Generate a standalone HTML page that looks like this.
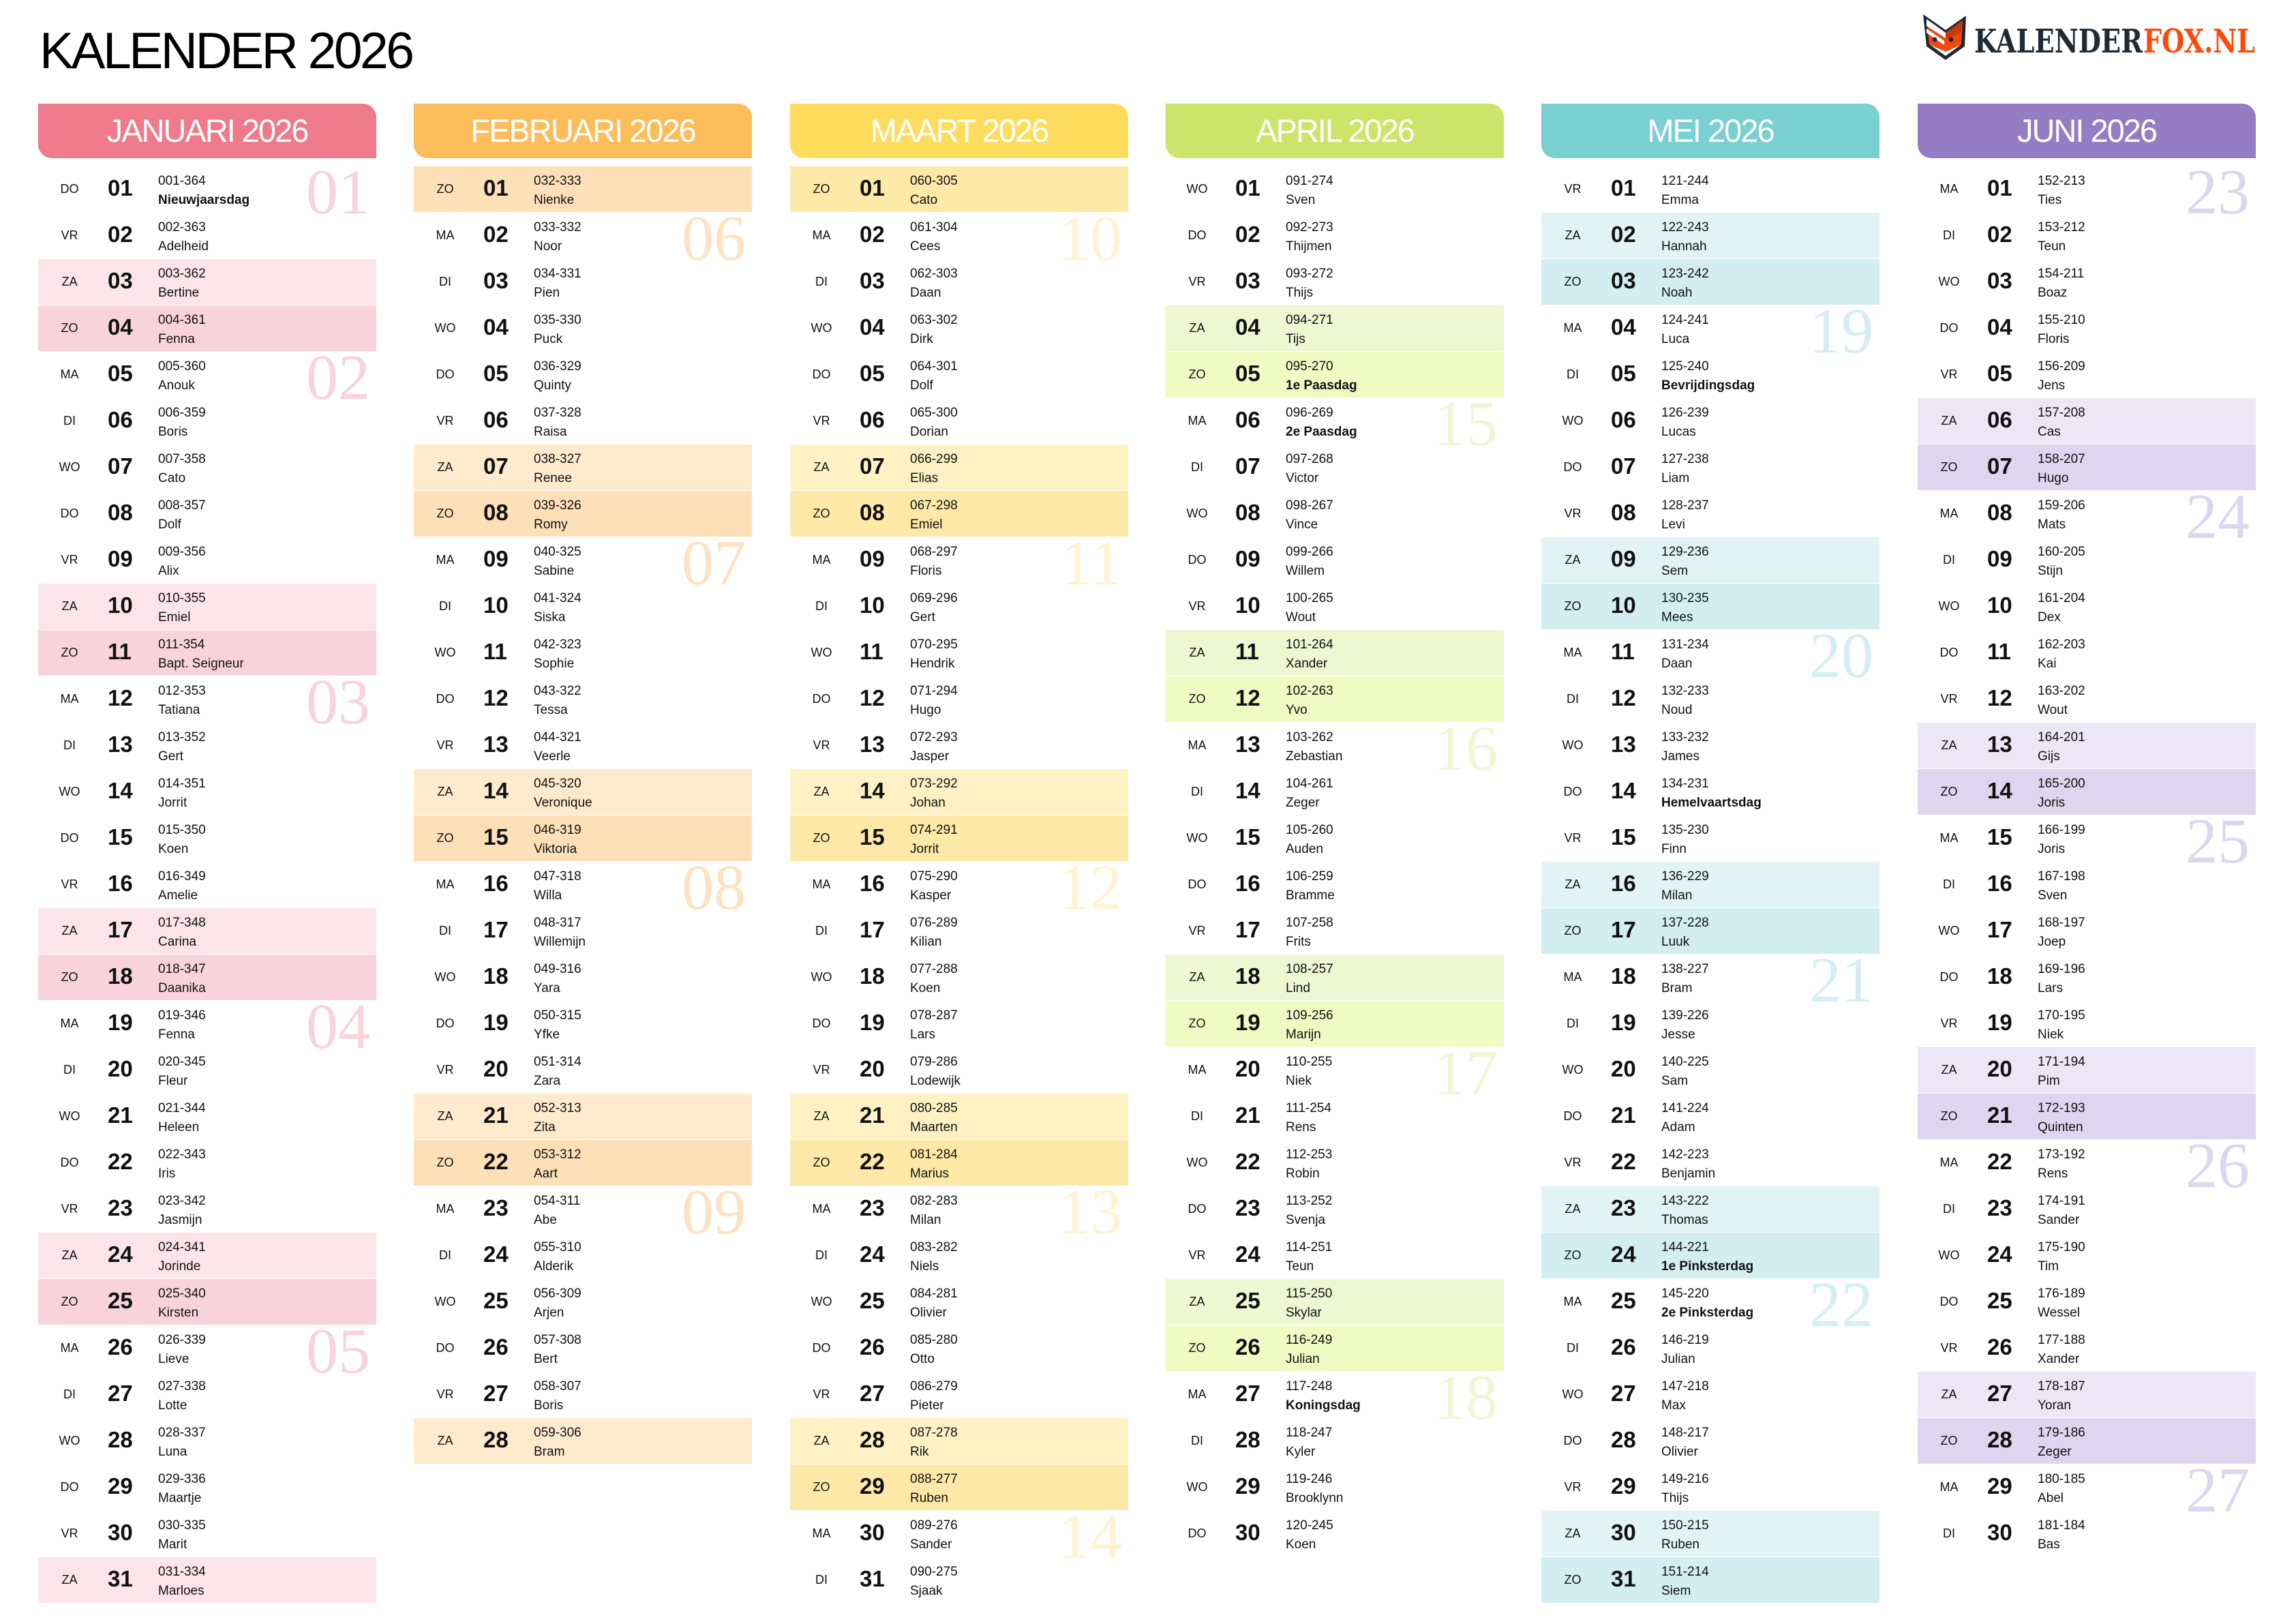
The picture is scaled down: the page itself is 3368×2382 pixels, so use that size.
<!DOCTYPE html>
<html><head><meta charset="utf-8">
<style>
*{margin:0;padding:0;box-sizing:border-box}
body{width:3368px;height:2382px;background:#fff;position:relative;overflow:hidden;font-family:"Liberation Sans Narrow","Liberation Sans",sans-serif;color:#111}
.title{position:absolute;left:58px;top:37px;font-size:75px;line-height:75px;letter-spacing:-3.5px;font-family:"Liberation Sans",sans-serif;color:#000}
.col{position:absolute;top:152px;width:496px}
.h{height:80px;border-radius:0 20px 0 20px;color:#fff;font-size:47px;line-height:80px;text-align:center;font-family:"Liberation Sans",sans-serif;letter-spacing:-2px;margin-bottom:12px}
.r{position:relative;height:66.5px;margin-bottom:1.5px}
.d{position:absolute;left:0;width:92px;text-align:center;top:24px;font-size:18px;line-height:18px;font-weight:normal}
.n{position:absolute;left:102px;top:15px;font-size:33px;line-height:33px;font-weight:bold}
.t{position:absolute;left:176px;top:12px;font-size:19px;line-height:19px}
.m{position:absolute;left:176px;top:40px;font-size:19px;line-height:19px;white-space:nowrap}
.m.b{font-weight:bold}
.w{position:absolute;right:9px;top:-9px;font-family:"Liberation Serif",serif;font-size:94px;line-height:94px}
.c1 .h{background:#ee7a8c}.c1 .za{background:#fbe4ea}.c1 .zo{background:#f9d3dc}.c1 .w{color:#f9d3dc}
.c2 .h{background:#fdbd5b}.c2 .za{background:#feeacd}.c2 .zo{background:#fee0b8}.c2 .w{color:#fee3c2}
.c3 .h{background:#fedd5e}.c3 .za{background:#fef2c4}.c3 .zo{background:#fee9a8}.c3 .w{color:#fff3d4}
.c4 .h{background:#cde46a}.c4 .za{background:#eef6d2}.c4 .zo{background:#f0fac3}.c4 .w{color:#eff7d6}
.c5 .h{background:#79cfd2}.c5 .za{background:#e2f3f3}.c5 .zo{background:#d3eef1}.c5 .w{color:#d4eff2}
.c6 .h{background:#967dc3}.c6 .za{background:#ece7f6}.c6 .zo{background:#ddd6ee}.c6 .w{color:#ddd6ee}
.logo{position:absolute;left:2818px;top:18px}
</style></head><body>
<div class="title">KALENDER 2026</div>
<svg class="logo" width="500" height="76" viewBox="0 0 500 76">
<polygon points="3,3 36,26 66,5 64,50 36,70 8,50" fill="#1f2a33"/>
<polygon points="8,10 36,30 61,12 59,47 36,64 12,47" fill="#f04a14"/>
<polygon points="8,10 36,30 36,38 8,20" fill="#fff"/>
<polygon points="8,24 34,42 34,48 8,30" fill="#fff"/>
<polygon points="36,30 61,12 59,30 36,40" fill="#c83a0c"/>
<polygon points="14,48 36,58 58,48 36,64" fill="#fff"/>
<circle cx="20" cy="40" r="3.5" fill="#1f2a33"/><circle cx="44" cy="40" r="3.5" fill="#1f2a33"/>
<text x="78" y="59" font-family="DejaVu Serif,Liberation Serif,serif" font-weight="bold" font-size="48" fill="#1f2a33" textLength="247" lengthAdjust="spacingAndGlyphs">KALENDER</text>
<text x="326" y="59" font-family="DejaVu Serif,Liberation Serif,serif" font-weight="bold" font-size="48" fill="#ff4a0a" textLength="164" lengthAdjust="spacingAndGlyphs">FOX.NL</text>
</svg>

<div class="col c1" style="left:56px">
<div class="h">JANUARI 2026</div>
<div class="r"><span class="d">DO</span><span class="n">01</span><span class="t">001-364</span><span class="m b">Nieuwjaarsdag</span><span class="w">01</span></div>
<div class="r"><span class="d">VR</span><span class="n">02</span><span class="t">002-363</span><span class="m">Adelheid</span></div>
<div class="r za"><span class="d">ZA</span><span class="n">03</span><span class="t">003-362</span><span class="m">Bertine</span></div>
<div class="r zo"><span class="d">ZO</span><span class="n">04</span><span class="t">004-361</span><span class="m">Fenna</span></div>
<div class="r"><span class="d">MA</span><span class="n">05</span><span class="t">005-360</span><span class="m">Anouk</span><span class="w">02</span></div>
<div class="r"><span class="d">DI</span><span class="n">06</span><span class="t">006-359</span><span class="m">Boris</span></div>
<div class="r"><span class="d">WO</span><span class="n">07</span><span class="t">007-358</span><span class="m">Cato</span></div>
<div class="r"><span class="d">DO</span><span class="n">08</span><span class="t">008-357</span><span class="m">Dolf</span></div>
<div class="r"><span class="d">VR</span><span class="n">09</span><span class="t">009-356</span><span class="m">Alix</span></div>
<div class="r za"><span class="d">ZA</span><span class="n">10</span><span class="t">010-355</span><span class="m">Emiel</span></div>
<div class="r zo"><span class="d">ZO</span><span class="n">11</span><span class="t">011-354</span><span class="m">Bapt. Seigneur</span></div>
<div class="r"><span class="d">MA</span><span class="n">12</span><span class="t">012-353</span><span class="m">Tatiana</span><span class="w">03</span></div>
<div class="r"><span class="d">DI</span><span class="n">13</span><span class="t">013-352</span><span class="m">Gert</span></div>
<div class="r"><span class="d">WO</span><span class="n">14</span><span class="t">014-351</span><span class="m">Jorrit</span></div>
<div class="r"><span class="d">DO</span><span class="n">15</span><span class="t">015-350</span><span class="m">Koen</span></div>
<div class="r"><span class="d">VR</span><span class="n">16</span><span class="t">016-349</span><span class="m">Amelie</span></div>
<div class="r za"><span class="d">ZA</span><span class="n">17</span><span class="t">017-348</span><span class="m">Carina</span></div>
<div class="r zo"><span class="d">ZO</span><span class="n">18</span><span class="t">018-347</span><span class="m">Daanika</span></div>
<div class="r"><span class="d">MA</span><span class="n">19</span><span class="t">019-346</span><span class="m">Fenna</span><span class="w">04</span></div>
<div class="r"><span class="d">DI</span><span class="n">20</span><span class="t">020-345</span><span class="m">Fleur</span></div>
<div class="r"><span class="d">WO</span><span class="n">21</span><span class="t">021-344</span><span class="m">Heleen</span></div>
<div class="r"><span class="d">DO</span><span class="n">22</span><span class="t">022-343</span><span class="m">Iris</span></div>
<div class="r"><span class="d">VR</span><span class="n">23</span><span class="t">023-342</span><span class="m">Jasmijn</span></div>
<div class="r za"><span class="d">ZA</span><span class="n">24</span><span class="t">024-341</span><span class="m">Jorinde</span></div>
<div class="r zo"><span class="d">ZO</span><span class="n">25</span><span class="t">025-340</span><span class="m">Kirsten</span></div>
<div class="r"><span class="d">MA</span><span class="n">26</span><span class="t">026-339</span><span class="m">Lieve</span><span class="w">05</span></div>
<div class="r"><span class="d">DI</span><span class="n">27</span><span class="t">027-338</span><span class="m">Lotte</span></div>
<div class="r"><span class="d">WO</span><span class="n">28</span><span class="t">028-337</span><span class="m">Luna</span></div>
<div class="r"><span class="d">DO</span><span class="n">29</span><span class="t">029-336</span><span class="m">Maartje</span></div>
<div class="r"><span class="d">VR</span><span class="n">30</span><span class="t">030-335</span><span class="m">Marit</span></div>
<div class="r za"><span class="d">ZA</span><span class="n">31</span><span class="t">031-334</span><span class="m">Marloes</span></div>
</div>

<div class="col c2" style="left:607px">
<div class="h">FEBRUARI 2026</div>
<div class="r zo"><span class="d">ZO</span><span class="n">01</span><span class="t">032-333</span><span class="m">Nienke</span></div>
<div class="r"><span class="d">MA</span><span class="n">02</span><span class="t">033-332</span><span class="m">Noor</span><span class="w">06</span></div>
<div class="r"><span class="d">DI</span><span class="n">03</span><span class="t">034-331</span><span class="m">Pien</span></div>
<div class="r"><span class="d">WO</span><span class="n">04</span><span class="t">035-330</span><span class="m">Puck</span></div>
<div class="r"><span class="d">DO</span><span class="n">05</span><span class="t">036-329</span><span class="m">Quinty</span></div>
<div class="r"><span class="d">VR</span><span class="n">06</span><span class="t">037-328</span><span class="m">Raisa</span></div>
<div class="r za"><span class="d">ZA</span><span class="n">07</span><span class="t">038-327</span><span class="m">Renee</span></div>
<div class="r zo"><span class="d">ZO</span><span class="n">08</span><span class="t">039-326</span><span class="m">Romy</span></div>
<div class="r"><span class="d">MA</span><span class="n">09</span><span class="t">040-325</span><span class="m">Sabine</span><span class="w">07</span></div>
<div class="r"><span class="d">DI</span><span class="n">10</span><span class="t">041-324</span><span class="m">Siska</span></div>
<div class="r"><span class="d">WO</span><span class="n">11</span><span class="t">042-323</span><span class="m">Sophie</span></div>
<div class="r"><span class="d">DO</span><span class="n">12</span><span class="t">043-322</span><span class="m">Tessa</span></div>
<div class="r"><span class="d">VR</span><span class="n">13</span><span class="t">044-321</span><span class="m">Veerle</span></div>
<div class="r za"><span class="d">ZA</span><span class="n">14</span><span class="t">045-320</span><span class="m">Veronique</span></div>
<div class="r zo"><span class="d">ZO</span><span class="n">15</span><span class="t">046-319</span><span class="m">Viktoria</span></div>
<div class="r"><span class="d">MA</span><span class="n">16</span><span class="t">047-318</span><span class="m">Willa</span><span class="w">08</span></div>
<div class="r"><span class="d">DI</span><span class="n">17</span><span class="t">048-317</span><span class="m">Willemijn</span></div>
<div class="r"><span class="d">WO</span><span class="n">18</span><span class="t">049-316</span><span class="m">Yara</span></div>
<div class="r"><span class="d">DO</span><span class="n">19</span><span class="t">050-315</span><span class="m">Yfke</span></div>
<div class="r"><span class="d">VR</span><span class="n">20</span><span class="t">051-314</span><span class="m">Zara</span></div>
<div class="r za"><span class="d">ZA</span><span class="n">21</span><span class="t">052-313</span><span class="m">Zita</span></div>
<div class="r zo"><span class="d">ZO</span><span class="n">22</span><span class="t">053-312</span><span class="m">Aart</span></div>
<div class="r"><span class="d">MA</span><span class="n">23</span><span class="t">054-311</span><span class="m">Abe</span><span class="w">09</span></div>
<div class="r"><span class="d">DI</span><span class="n">24</span><span class="t">055-310</span><span class="m">Alderik</span></div>
<div class="r"><span class="d">WO</span><span class="n">25</span><span class="t">056-309</span><span class="m">Arjen</span></div>
<div class="r"><span class="d">DO</span><span class="n">26</span><span class="t">057-308</span><span class="m">Bert</span></div>
<div class="r"><span class="d">VR</span><span class="n">27</span><span class="t">058-307</span><span class="m">Boris</span></div>
<div class="r za"><span class="d">ZA</span><span class="n">28</span><span class="t">059-306</span><span class="m">Bram</span></div>
</div>

<div class="col c3" style="left:1159px">
<div class="h">MAART 2026</div>
<div class="r zo"><span class="d">ZO</span><span class="n">01</span><span class="t">060-305</span><span class="m">Cato</span></div>
<div class="r"><span class="d">MA</span><span class="n">02</span><span class="t">061-304</span><span class="m">Cees</span><span class="w">10</span></div>
<div class="r"><span class="d">DI</span><span class="n">03</span><span class="t">062-303</span><span class="m">Daan</span></div>
<div class="r"><span class="d">WO</span><span class="n">04</span><span class="t">063-302</span><span class="m">Dirk</span></div>
<div class="r"><span class="d">DO</span><span class="n">05</span><span class="t">064-301</span><span class="m">Dolf</span></div>
<div class="r"><span class="d">VR</span><span class="n">06</span><span class="t">065-300</span><span class="m">Dorian</span></div>
<div class="r za"><span class="d">ZA</span><span class="n">07</span><span class="t">066-299</span><span class="m">Elias</span></div>
<div class="r zo"><span class="d">ZO</span><span class="n">08</span><span class="t">067-298</span><span class="m">Emiel</span></div>
<div class="r"><span class="d">MA</span><span class="n">09</span><span class="t">068-297</span><span class="m">Floris</span><span class="w">11</span></div>
<div class="r"><span class="d">DI</span><span class="n">10</span><span class="t">069-296</span><span class="m">Gert</span></div>
<div class="r"><span class="d">WO</span><span class="n">11</span><span class="t">070-295</span><span class="m">Hendrik</span></div>
<div class="r"><span class="d">DO</span><span class="n">12</span><span class="t">071-294</span><span class="m">Hugo</span></div>
<div class="r"><span class="d">VR</span><span class="n">13</span><span class="t">072-293</span><span class="m">Jasper</span></div>
<div class="r za"><span class="d">ZA</span><span class="n">14</span><span class="t">073-292</span><span class="m">Johan</span></div>
<div class="r zo"><span class="d">ZO</span><span class="n">15</span><span class="t">074-291</span><span class="m">Jorrit</span></div>
<div class="r"><span class="d">MA</span><span class="n">16</span><span class="t">075-290</span><span class="m">Kasper</span><span class="w">12</span></div>
<div class="r"><span class="d">DI</span><span class="n">17</span><span class="t">076-289</span><span class="m">Kilian</span></div>
<div class="r"><span class="d">WO</span><span class="n">18</span><span class="t">077-288</span><span class="m">Koen</span></div>
<div class="r"><span class="d">DO</span><span class="n">19</span><span class="t">078-287</span><span class="m">Lars</span></div>
<div class="r"><span class="d">VR</span><span class="n">20</span><span class="t">079-286</span><span class="m">Lodewijk</span></div>
<div class="r za"><span class="d">ZA</span><span class="n">21</span><span class="t">080-285</span><span class="m">Maarten</span></div>
<div class="r zo"><span class="d">ZO</span><span class="n">22</span><span class="t">081-284</span><span class="m">Marius</span></div>
<div class="r"><span class="d">MA</span><span class="n">23</span><span class="t">082-283</span><span class="m">Milan</span><span class="w">13</span></div>
<div class="r"><span class="d">DI</span><span class="n">24</span><span class="t">083-282</span><span class="m">Niels</span></div>
<div class="r"><span class="d">WO</span><span class="n">25</span><span class="t">084-281</span><span class="m">Olivier</span></div>
<div class="r"><span class="d">DO</span><span class="n">26</span><span class="t">085-280</span><span class="m">Otto</span></div>
<div class="r"><span class="d">VR</span><span class="n">27</span><span class="t">086-279</span><span class="m">Pieter</span></div>
<div class="r za"><span class="d">ZA</span><span class="n">28</span><span class="t">087-278</span><span class="m">Rik</span></div>
<div class="r zo"><span class="d">ZO</span><span class="n">29</span><span class="t">088-277</span><span class="m">Ruben</span></div>
<div class="r"><span class="d">MA</span><span class="n">30</span><span class="t">089-276</span><span class="m">Sander</span><span class="w">14</span></div>
<div class="r"><span class="d">DI</span><span class="n">31</span><span class="t">090-275</span><span class="m">Sjaak</span></div>
</div>

<div class="col c4" style="left:1710px">
<div class="h">APRIL 2026</div>
<div class="r"><span class="d">WO</span><span class="n">01</span><span class="t">091-274</span><span class="m">Sven</span></div>
<div class="r"><span class="d">DO</span><span class="n">02</span><span class="t">092-273</span><span class="m">Thijmen</span></div>
<div class="r"><span class="d">VR</span><span class="n">03</span><span class="t">093-272</span><span class="m">Thijs</span></div>
<div class="r za"><span class="d">ZA</span><span class="n">04</span><span class="t">094-271</span><span class="m">Tijs</span></div>
<div class="r zo"><span class="d">ZO</span><span class="n">05</span><span class="t">095-270</span><span class="m b">1e Paasdag</span></div>
<div class="r"><span class="d">MA</span><span class="n">06</span><span class="t">096-269</span><span class="m b">2e Paasdag</span><span class="w">15</span></div>
<div class="r"><span class="d">DI</span><span class="n">07</span><span class="t">097-268</span><span class="m">Victor</span></div>
<div class="r"><span class="d">WO</span><span class="n">08</span><span class="t">098-267</span><span class="m">Vince</span></div>
<div class="r"><span class="d">DO</span><span class="n">09</span><span class="t">099-266</span><span class="m">Willem</span></div>
<div class="r"><span class="d">VR</span><span class="n">10</span><span class="t">100-265</span><span class="m">Wout</span></div>
<div class="r za"><span class="d">ZA</span><span class="n">11</span><span class="t">101-264</span><span class="m">Xander</span></div>
<div class="r zo"><span class="d">ZO</span><span class="n">12</span><span class="t">102-263</span><span class="m">Yvo</span></div>
<div class="r"><span class="d">MA</span><span class="n">13</span><span class="t">103-262</span><span class="m">Zebastian</span><span class="w">16</span></div>
<div class="r"><span class="d">DI</span><span class="n">14</span><span class="t">104-261</span><span class="m">Zeger</span></div>
<div class="r"><span class="d">WO</span><span class="n">15</span><span class="t">105-260</span><span class="m">Auden</span></div>
<div class="r"><span class="d">DO</span><span class="n">16</span><span class="t">106-259</span><span class="m">Bramme</span></div>
<div class="r"><span class="d">VR</span><span class="n">17</span><span class="t">107-258</span><span class="m">Frits</span></div>
<div class="r za"><span class="d">ZA</span><span class="n">18</span><span class="t">108-257</span><span class="m">Lind</span></div>
<div class="r zo"><span class="d">ZO</span><span class="n">19</span><span class="t">109-256</span><span class="m">Marijn</span></div>
<div class="r"><span class="d">MA</span><span class="n">20</span><span class="t">110-255</span><span class="m">Niek</span><span class="w">17</span></div>
<div class="r"><span class="d">DI</span><span class="n">21</span><span class="t">111-254</span><span class="m">Rens</span></div>
<div class="r"><span class="d">WO</span><span class="n">22</span><span class="t">112-253</span><span class="m">Robin</span></div>
<div class="r"><span class="d">DO</span><span class="n">23</span><span class="t">113-252</span><span class="m">Svenja</span></div>
<div class="r"><span class="d">VR</span><span class="n">24</span><span class="t">114-251</span><span class="m">Teun</span></div>
<div class="r za"><span class="d">ZA</span><span class="n">25</span><span class="t">115-250</span><span class="m">Skylar</span></div>
<div class="r zo"><span class="d">ZO</span><span class="n">26</span><span class="t">116-249</span><span class="m">Julian</span></div>
<div class="r"><span class="d">MA</span><span class="n">27</span><span class="t">117-248</span><span class="m b">Koningsdag</span><span class="w">18</span></div>
<div class="r"><span class="d">DI</span><span class="n">28</span><span class="t">118-247</span><span class="m">Kyler</span></div>
<div class="r"><span class="d">WO</span><span class="n">29</span><span class="t">119-246</span><span class="m">Brooklynn</span></div>
<div class="r"><span class="d">DO</span><span class="n">30</span><span class="t">120-245</span><span class="m">Koen</span></div>
</div>

<div class="col c5" style="left:2261px">
<div class="h">MEI 2026</div>
<div class="r"><span class="d">VR</span><span class="n">01</span><span class="t">121-244</span><span class="m">Emma</span></div>
<div class="r za"><span class="d">ZA</span><span class="n">02</span><span class="t">122-243</span><span class="m">Hannah</span></div>
<div class="r zo"><span class="d">ZO</span><span class="n">03</span><span class="t">123-242</span><span class="m">Noah</span></div>
<div class="r"><span class="d">MA</span><span class="n">04</span><span class="t">124-241</span><span class="m">Luca</span><span class="w">19</span></div>
<div class="r"><span class="d">DI</span><span class="n">05</span><span class="t">125-240</span><span class="m b">Bevrijdingsdag</span></div>
<div class="r"><span class="d">WO</span><span class="n">06</span><span class="t">126-239</span><span class="m">Lucas</span></div>
<div class="r"><span class="d">DO</span><span class="n">07</span><span class="t">127-238</span><span class="m">Liam</span></div>
<div class="r"><span class="d">VR</span><span class="n">08</span><span class="t">128-237</span><span class="m">Levi</span></div>
<div class="r za"><span class="d">ZA</span><span class="n">09</span><span class="t">129-236</span><span class="m">Sem</span></div>
<div class="r zo"><span class="d">ZO</span><span class="n">10</span><span class="t">130-235</span><span class="m">Mees</span></div>
<div class="r"><span class="d">MA</span><span class="n">11</span><span class="t">131-234</span><span class="m">Daan</span><span class="w">20</span></div>
<div class="r"><span class="d">DI</span><span class="n">12</span><span class="t">132-233</span><span class="m">Noud</span></div>
<div class="r"><span class="d">WO</span><span class="n">13</span><span class="t">133-232</span><span class="m">James</span></div>
<div class="r"><span class="d">DO</span><span class="n">14</span><span class="t">134-231</span><span class="m b">Hemelvaartsdag</span></div>
<div class="r"><span class="d">VR</span><span class="n">15</span><span class="t">135-230</span><span class="m">Finn</span></div>
<div class="r za"><span class="d">ZA</span><span class="n">16</span><span class="t">136-229</span><span class="m">Milan</span></div>
<div class="r zo"><span class="d">ZO</span><span class="n">17</span><span class="t">137-228</span><span class="m">Luuk</span></div>
<div class="r"><span class="d">MA</span><span class="n">18</span><span class="t">138-227</span><span class="m">Bram</span><span class="w">21</span></div>
<div class="r"><span class="d">DI</span><span class="n">19</span><span class="t">139-226</span><span class="m">Jesse</span></div>
<div class="r"><span class="d">WO</span><span class="n">20</span><span class="t">140-225</span><span class="m">Sam</span></div>
<div class="r"><span class="d">DO</span><span class="n">21</span><span class="t">141-224</span><span class="m">Adam</span></div>
<div class="r"><span class="d">VR</span><span class="n">22</span><span class="t">142-223</span><span class="m">Benjamin</span></div>
<div class="r za"><span class="d">ZA</span><span class="n">23</span><span class="t">143-222</span><span class="m">Thomas</span></div>
<div class="r zo"><span class="d">ZO</span><span class="n">24</span><span class="t">144-221</span><span class="m b">1e Pinksterdag</span></div>
<div class="r"><span class="d">MA</span><span class="n">25</span><span class="t">145-220</span><span class="m b">2e Pinksterdag</span><span class="w">22</span></div>
<div class="r"><span class="d">DI</span><span class="n">26</span><span class="t">146-219</span><span class="m">Julian</span></div>
<div class="r"><span class="d">WO</span><span class="n">27</span><span class="t">147-218</span><span class="m">Max</span></div>
<div class="r"><span class="d">DO</span><span class="n">28</span><span class="t">148-217</span><span class="m">Olivier</span></div>
<div class="r"><span class="d">VR</span><span class="n">29</span><span class="t">149-216</span><span class="m">Thijs</span></div>
<div class="r za"><span class="d">ZA</span><span class="n">30</span><span class="t">150-215</span><span class="m">Ruben</span></div>
<div class="r zo"><span class="d">ZO</span><span class="n">31</span><span class="t">151-214</span><span class="m">Siem</span></div>
</div>

<div class="col c6" style="left:2813px">
<div class="h">JUNI 2026</div>
<div class="r"><span class="d">MA</span><span class="n">01</span><span class="t">152-213</span><span class="m">Ties</span><span class="w">23</span></div>
<div class="r"><span class="d">DI</span><span class="n">02</span><span class="t">153-212</span><span class="m">Teun</span></div>
<div class="r"><span class="d">WO</span><span class="n">03</span><span class="t">154-211</span><span class="m">Boaz</span></div>
<div class="r"><span class="d">DO</span><span class="n">04</span><span class="t">155-210</span><span class="m">Floris</span></div>
<div class="r"><span class="d">VR</span><span class="n">05</span><span class="t">156-209</span><span class="m">Jens</span></div>
<div class="r za"><span class="d">ZA</span><span class="n">06</span><span class="t">157-208</span><span class="m">Cas</span></div>
<div class="r zo"><span class="d">ZO</span><span class="n">07</span><span class="t">158-207</span><span class="m">Hugo</span></div>
<div class="r"><span class="d">MA</span><span class="n">08</span><span class="t">159-206</span><span class="m">Mats</span><span class="w">24</span></div>
<div class="r"><span class="d">DI</span><span class="n">09</span><span class="t">160-205</span><span class="m">Stijn</span></div>
<div class="r"><span class="d">WO</span><span class="n">10</span><span class="t">161-204</span><span class="m">Dex</span></div>
<div class="r"><span class="d">DO</span><span class="n">11</span><span class="t">162-203</span><span class="m">Kai</span></div>
<div class="r"><span class="d">VR</span><span class="n">12</span><span class="t">163-202</span><span class="m">Wout</span></div>
<div class="r za"><span class="d">ZA</span><span class="n">13</span><span class="t">164-201</span><span class="m">Gijs</span></div>
<div class="r zo"><span class="d">ZO</span><span class="n">14</span><span class="t">165-200</span><span class="m">Joris</span></div>
<div class="r"><span class="d">MA</span><span class="n">15</span><span class="t">166-199</span><span class="m">Joris</span><span class="w">25</span></div>
<div class="r"><span class="d">DI</span><span class="n">16</span><span class="t">167-198</span><span class="m">Sven</span></div>
<div class="r"><span class="d">WO</span><span class="n">17</span><span class="t">168-197</span><span class="m">Joep</span></div>
<div class="r"><span class="d">DO</span><span class="n">18</span><span class="t">169-196</span><span class="m">Lars</span></div>
<div class="r"><span class="d">VR</span><span class="n">19</span><span class="t">170-195</span><span class="m">Niek</span></div>
<div class="r za"><span class="d">ZA</span><span class="n">20</span><span class="t">171-194</span><span class="m">Pim</span></div>
<div class="r zo"><span class="d">ZO</span><span class="n">21</span><span class="t">172-193</span><span class="m">Quinten</span></div>
<div class="r"><span class="d">MA</span><span class="n">22</span><span class="t">173-192</span><span class="m">Rens</span><span class="w">26</span></div>
<div class="r"><span class="d">DI</span><span class="n">23</span><span class="t">174-191</span><span class="m">Sander</span></div>
<div class="r"><span class="d">WO</span><span class="n">24</span><span class="t">175-190</span><span class="m">Tim</span></div>
<div class="r"><span class="d">DO</span><span class="n">25</span><span class="t">176-189</span><span class="m">Wessel</span></div>
<div class="r"><span class="d">VR</span><span class="n">26</span><span class="t">177-188</span><span class="m">Xander</span></div>
<div class="r za"><span class="d">ZA</span><span class="n">27</span><span class="t">178-187</span><span class="m">Yoran</span></div>
<div class="r zo"><span class="d">ZO</span><span class="n">28</span><span class="t">179-186</span><span class="m">Zeger</span></div>
<div class="r"><span class="d">MA</span><span class="n">29</span><span class="t">180-185</span><span class="m">Abel</span><span class="w">27</span></div>
<div class="r"><span class="d">DI</span><span class="n">30</span><span class="t">181-184</span><span class="m">Bas</span></div>
</div>
</body></html>
